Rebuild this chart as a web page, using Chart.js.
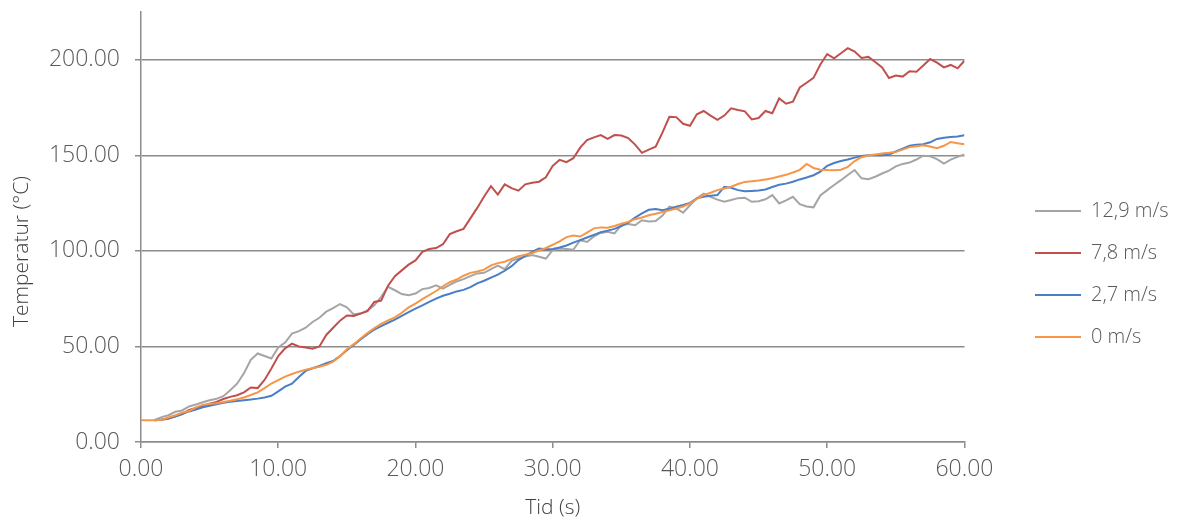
<!DOCTYPE html>
<html>
<head>
<meta charset="utf-8">
<script src="https://cdn.jsdelivr.net/npm/chart.js@4.4.1/dist/chart.umd.min.js"></script>
<style>
  html, body { margin: 0; padding: 0; background: #ffffff; }
  #wrap { width: 1177px; height: 521px; }
</style>
</head>
<body>
<div id="wrap"><canvas id="chart" width="1177" height="521"></canvas></div>
<script>
// Sample times (s)
const times = [
  0, 0.5, 1, 1.5, 2, 2.5, 3, 3.5, 4, 4.5,
  5, 5.5, 6, 6.5, 7, 7.5, 8, 8.5, 9, 9.5,
  10, 10.5, 11, 11.5, 12, 12.5, 13, 13.5, 14, 14.5,
  15, 15.5, 16, 16.5, 17, 17.5, 18, 18.5, 19, 19.5,
  20, 20.5, 21, 21.5, 22, 22.5, 23, 23.5, 24, 24.5,
  25, 25.5, 26, 26.5, 27, 27.5, 28, 28.5, 29, 29.5,
  30, 30.5, 31, 31.5, 32, 32.5, 33, 33.5, 34, 34.5,
  35, 35.5, 36, 36.5, 37, 37.5, 38, 38.5, 39, 39.5,
  40, 40.5, 41, 41.5, 42, 42.5, 43, 43.5, 44, 44.5,
  45, 45.5, 46, 46.5, 47, 47.5, 48, 48.5, 49, 49.5,
  50, 50.5, 51, 51.5, 52, 52.5, 53, 53.5, 54, 54.5,
  55, 55.5, 56, 56.5, 57, 57.5, 58, 58.5, 59, 59.5,
  60
];

const seriesNames = ['12,9 m/s', '7,8 m/s', '2,7 m/s', '0 m/s'];
const seriesColors = ['#a5a5a5', '#c0504d', '#4a7ec6', '#f79646'];

// Temperature (°C) per wind speed
const temp12_9 = [
  null, null, 11.6, 13.0, 14.0, 15.8, 16.5, 18.6, 19.6, 20.8,
  21.8, 22.6, 24.0, 27.1, 30.5, 36.0, 43.0, 46.3, 45.0, 43.7,
  49.5, 52.0, 56.7, 58.0, 59.8, 62.8, 65.0, 68.2, 70.0, 72.2,
  70.5, 66.8, 67.2, 68.8, 71.5, 76.0, 81.2, 79.4, 77.4, 76.8,
  77.7, 80.0, 80.6, 82.0, 80.3, 82.2, 84.0, 85.2, 86.8, 88.2,
  88.5, 90.5, 92.3, 90.4, 94.8, 96.0, 97.0, 97.8, 96.9, 96.0,
  100.4, 101.2, 101.0, 100.6, 105.6, 104.7, 107.6, 109.4, 110.0, 109.1,
  113.5, 114.0, 113.4, 116.0, 115.4, 115.6, 118.5, 123.1, 122.2, 120.0,
  123.9, 127.5, 130.0, 128.3, 126.8, 125.7, 126.6, 127.6, 127.8, 125.7,
  126.0, 127.0, 129.2, 124.8, 126.4, 128.3, 124.5, 123.2, 122.8, 129.0,
  131.8, 134.5, 137.0, 139.7, 142.3, 138.0, 137.5, 138.8, 140.5, 142.0,
  144.2, 145.5, 146.2, 147.8, 149.8, 149.5, 148.0, 145.7, 147.8, 149.2,
  150.5
];
const temp7_8 = [
  null, null, 11.4, 11.6, 12.2, 13.4, 14.6, 16.8, 17.8, 18.8,
  20.0, 21.0, 22.5, 23.6, 24.5, 26.0, 28.5, 28.2, 32.5, 38.5,
  45.0, 49.0, 51.5, 50.0, 49.4, 48.8, 50.0, 56.0, 59.8, 63.5,
  66.2, 66.0, 67.2, 68.5, 73.3, 74.0, 81.8, 86.8, 89.8, 92.8,
  95.0, 99.5, 101.0, 101.5, 103.5, 108.8, 110.3, 111.5, 117.0, 122.5,
  128.5, 133.9, 129.5, 134.8, 132.8, 131.5, 134.8, 135.6, 136.2, 138.5,
  144.5, 147.6, 146.4, 148.5, 154.0, 158.0, 159.4, 160.6, 158.6, 160.6,
  160.4, 159.0, 155.6, 151.3, 153.0, 154.5, 162.0, 170.2, 170.0, 166.5,
  165.5, 171.5, 173.2, 170.8, 168.6, 170.8, 174.6, 173.7, 173.0, 168.8,
  169.5, 173.2, 172.0, 179.8, 177.0, 178.1, 185.5, 188.0, 190.5, 197.5,
  203.0, 200.8, 203.4, 206.1, 204.3, 201.0, 201.5, 198.8, 196.0, 190.5,
  191.8, 191.2, 194.0, 193.8, 197.0, 200.4, 198.5, 196.0, 197.3, 195.5,
  199.5
];
const temp2_7 = [
  null, null, 11.4, 11.8, 12.5, 13.3, 14.6, 16.0, 17.0, 18.2,
  19.0, 19.8, 20.5, 21.0, 21.4, 21.8, 22.2, 22.7, 23.3, 24.2,
  26.5, 29.0, 30.5, 34.0, 37.2, 38.6, 39.8, 41.2, 42.4, 45.0,
  48.0, 50.8, 53.6, 56.4, 58.8, 60.6, 62.4, 64.0, 66.0, 68.0,
  69.8, 71.5, 73.3, 75.0, 76.5, 77.6, 78.8, 79.6, 81.0, 83.0,
  84.4, 86.0, 87.6, 89.6, 92.0, 95.2, 97.4, 99.5, 101.2, 100.8,
  101.0, 101.8, 102.8, 104.3, 105.6, 107.0, 108.4, 109.8, 110.6, 111.5,
  113.0, 114.8, 117.4, 119.6, 121.5, 121.9, 121.3, 122.0, 123.1, 124.0,
  125.1, 127.5, 128.3, 128.8, 129.2, 133.5, 133.0, 131.8, 131.2, 131.4,
  131.6, 132.1, 133.4, 134.6, 135.2, 136.2, 137.4, 138.4, 139.6, 141.5,
  144.5, 146.0, 147.0, 147.8, 148.8, 149.6, 150.0, 150.1, 150.0, 150.4,
  152.0, 153.5, 155.0, 155.6, 155.8, 156.8, 158.6, 159.2, 159.6, 159.8,
  160.5
];
const temp0 = [
  11.4, 11.4, 11.4, 11.6, 12.8, 14.0, 15.3, 16.2, 18.1, 19.4,
  20.0, 20.3, 20.9, 21.6, 22.4, 23.3, 24.6, 26.0, 28.2, 30.6,
  32.4, 34.2, 35.6, 36.8, 37.8, 38.6, 39.4, 40.4, 42.0, 44.8,
  48.5, 51.2, 54.2, 57.0, 59.6, 61.8, 63.6, 65.2, 67.6, 70.4,
  72.4, 74.8, 76.8, 79.0, 81.5, 83.6, 85.0, 87.0, 88.5, 89.2,
  90.2, 92.4, 93.6, 94.3, 95.8, 97.2, 98.0, 98.9, 100.2, 101.5,
  103.2, 105.0, 107.2, 108.0, 107.5, 109.6, 111.8, 112.3, 112.1, 113.0,
  114.2, 115.2, 116.6, 117.5, 118.6, 119.4, 120.3, 121.2, 122.2, 123.2,
  124.8, 127.2, 129.2, 130.4, 131.8, 132.6, 133.6, 135.0, 136.1, 136.5,
  136.8, 137.4, 138.0, 138.9, 139.8, 141.0, 142.4, 145.5, 143.4, 142.5,
  142.3, 142.2, 142.5, 144.0, 147.0, 149.0, 149.9, 150.4, 150.9, 151.3,
  151.8, 153.0, 154.3, 154.8, 155.3, 154.6, 153.7, 155.0, 157.0, 156.3,
  155.8
];

const seriesValues = [temp12_9, temp7_8, temp2_7, temp0];

const FONT = "'Open Sans', 'Noto Sans', sans-serif";
const AXIS_GREY = '#8c8c8c';

// Places the legend column to the right of the plot
const legendPlacement = {
  id: 'legendPlacement',
  afterLayout(chart) {
    const lg = chart.legend;
    if (!lg) return;
    const w = lg.right - lg.left;
    const h = lg.bottom - lg.top;
    lg.left = 1013; lg.right = lg.left + w;
    lg.top = 179; lg.bottom = lg.top + h;
  }
};

const datasets = seriesNames.map((name, i) => ({
  label: name,
  data: times.map((t, k) => ({ x: t, y: seriesValues[i][k] })),
  borderColor: seriesColors[i],
  backgroundColor: seriesColors[i],
  borderWidth: 2,
  pointRadius: 0,
  tension: 0,
  spanGaps: false,
  order: seriesNames.length - i
}));

new Chart(document.getElementById('chart'), {
  type: 'line',
  data: { datasets },
  plugins: [legendPlacement],
  options: {
    responsive: false,
    animation: false,
    layout: { padding: { left: 0, top: 12, right: 47, bottom: 0 } },
    plugins: {
      tooltip: { enabled: false },
      legend: {
        position: 'right',
        align: 'start',
        labels: {
          usePointStyle: true,
          pointStyle: 'line',
          pointStyleWidth: 46,
          padding: 22,
          color: '#595959',
          sort: (a, b) => a.datasetIndex - b.datasetIndex,
          font: { family: FONT, size: 20, weight: '300' }
        }
      }
    },
    scales: {
      x: {
        type: 'linear',
        min: 0,
        max: 60,
        afterFit(scale) { scale.height = 79; },
        border: { display: true, color: AXIS_GREY, width: 1.5 },
        grid: { drawOnChartArea: false, drawTicks: true, tickLength: 6, color: AXIS_GREY, lineWidth: 1.5 },
        ticks: {
          stepSize: 10,
          padding: 8,
          maxRotation: 0,
          color: '#595959',
          font: { family: FONT, size: 23, weight: '300' },
          callback: v => Number(v).toFixed(2)
        },
        title: {
          display: true,
          text: 'Tid (s)',
          color: '#404040',
          padding: { top: 0, bottom: 0 },
          font: { family: FONT, size: 21, weight: '300' }
        }
      },
      y: {
        min: 0,
        max: 225,
        afterFit(scale) {
          scale.width = 141;
          scale.paddingTop = 0;
          scale.paddingBottom = 0;
        },
        border: { display: true, color: AXIS_GREY, width: 1.5 },
        grid: { drawTicks: true, tickLength: 6, color: AXIS_GREY, lineWidth: 1.5 },
        ticks: {
          stepSize: 50,
          includeBounds: false,
          padding: 15,
          color: '#595959',
          font: { family: FONT, size: 23, weight: '300' },
          callback: v => Number(v).toFixed(2)
        },
        title: {
          display: true,
          text: 'Temperatur (°C)         ',
          color: '#404040',
          padding: { top: 9, bottom: 0 },
          font: { family: FONT, size: 21, weight: '300' }
        }
      }
    }
  }
});
</script>
</body>
</html>
